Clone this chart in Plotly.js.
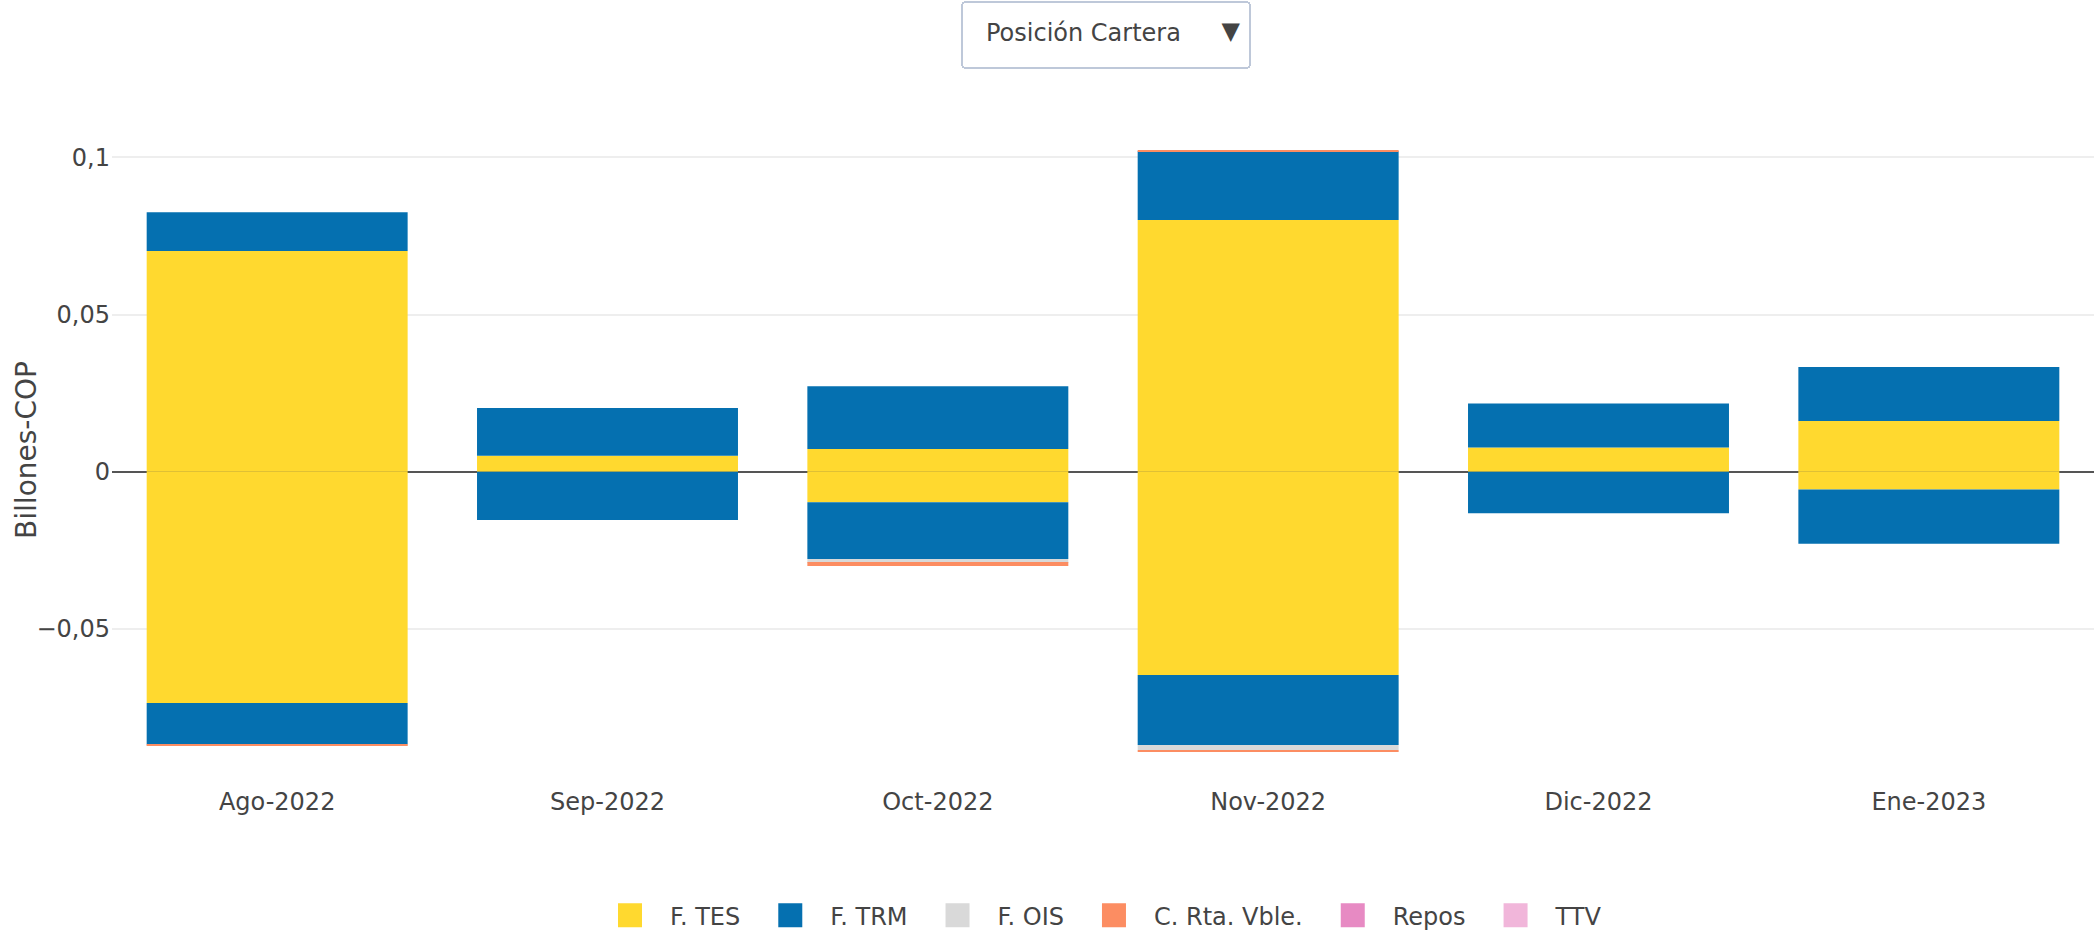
<!DOCTYPE html>
<html>
<head>
<meta charset="utf-8">
<script src="https://cdn.plot.ly/plotly-3.0.1.min.js"></script>
<style>
  html, body { margin: 0; background: #fff; }
  #wrap { width: 2094px; height: 931px; overflow: hidden; position: relative; }
  /* chart is laid out at half size and shown at 2x, like the original screenshot */
  #posicionArea { position: absolute; left: 0; top: 0; width: 1047px; height: 466px;
                  transform: scale(2); transform-origin: 0 0; }
</style>
</head>
<body>
<div id="wrap"><div id="posicionArea"></div></div>
<script>
// meses del reporte
let meses = ["Ago-2022", "Sep-2022", "Oct-2022", "Nov-2022", "Dic-2022", "Ene-2023"];

// posicion por instrumento (billones COP), parte positiva y parte negativa
let tesPos = [0.0702, 0.0051, 0.0072, 0.0801, 0.0077, 0.0161];
let tesNeg = [-0.0736, 0, -0.0097, -0.0647, 0, -0.0057];
let trmPos = [0.0124, 0.0152, 0.0200, 0.0219, 0.0140, 0.0172];
let trmNeg = [-0.0132, -0.0154, -0.0181, -0.0223, -0.0132, -0.0172];
let oisPos = [0, 0, 0, 0, 0, 0];
let oisNeg = [-0.0002, 0, -0.0013, -0.0016, 0, 0];
let rvPos = [0, 0, 0, 0.0003, 0, 0];
let rvNeg = [-0.0002, 0, -0.0004, -0.0004, 0, 0];
let reposPos = [0, 0, 0, 0, 0, 0];
let reposNeg = [0, 0, 0, 0, 0, 0];
let ttvPos = [0, 0, 0, 0, 0, 0];
let ttvNeg = [0, 0, 0, 0, 0, 0];

let series = [
    {name: "F. TES", pos: tesPos, neg: tesNeg, color: "#ffd92f"},
    {name: "F. TRM", pos: trmPos, neg: trmNeg, color: "#0570b0"},
    {name: "F. OIS", pos: oisPos, neg: oisNeg, color: "#d9d9d9"},
    {name: "C. Rta. Vble.", pos: rvPos, neg: rvNeg, color: "#fc8d62"},
    {name: "Repos", pos: reposPos, neg: reposNeg, color: "#e78ac3"},
    {name: "TTV", pos: ttvPos, neg: ttvNeg, color: "#f1b6da"}
];

let data = [];
series.forEach(function(s) {
    data.push({x: meses, y: s.pos, name: s.name, type: "bar", legendgroup: s.name,
               marker: {color: s.color}});
    data.push({x: meses, y: s.neg, name: s.name, type: "bar", legendgroup: s.name,
               showlegend: false, marker: {color: s.color}});
});

let layout = {
    width: 1047,
    height: 466,
    barmode: "relative",
    bargap: 0.21,
    separators: ",.",
    font: {family: "DejaVu Sans, Verdana, sans-serif", size: 12, color: "#444"},
    margin: {l: 56, r: 0, t: 58, b: 74},
    xaxis: {showgrid: false},
    yaxis: {title: {text: "Billones-COP"}, range: [-0.0994, 0.1132],
            gridcolor: "#eee", zerolinecolor: "#555", zerolinewidth: 1},
    legend: {orientation: "h", x: 0.5, xanchor: "center",
             yref: "container", y: 0.018, yanchor: "middle"},
    updatemenus: [{
        type: "dropdown",
        x: 0.5, xanchor: "center",
        y: 1.175, yanchor: "top",
        active: 0,
        buttons: [
            {label: "Posición Cartera", method: "skip", args: []},
            {label: "Variación Cartera", method: "skip", args: []}
        ]
    }]
};

Plotly.newPlot("posicionArea", data, layout, {displayModeBar: false});
</script>
</body>
</html>
